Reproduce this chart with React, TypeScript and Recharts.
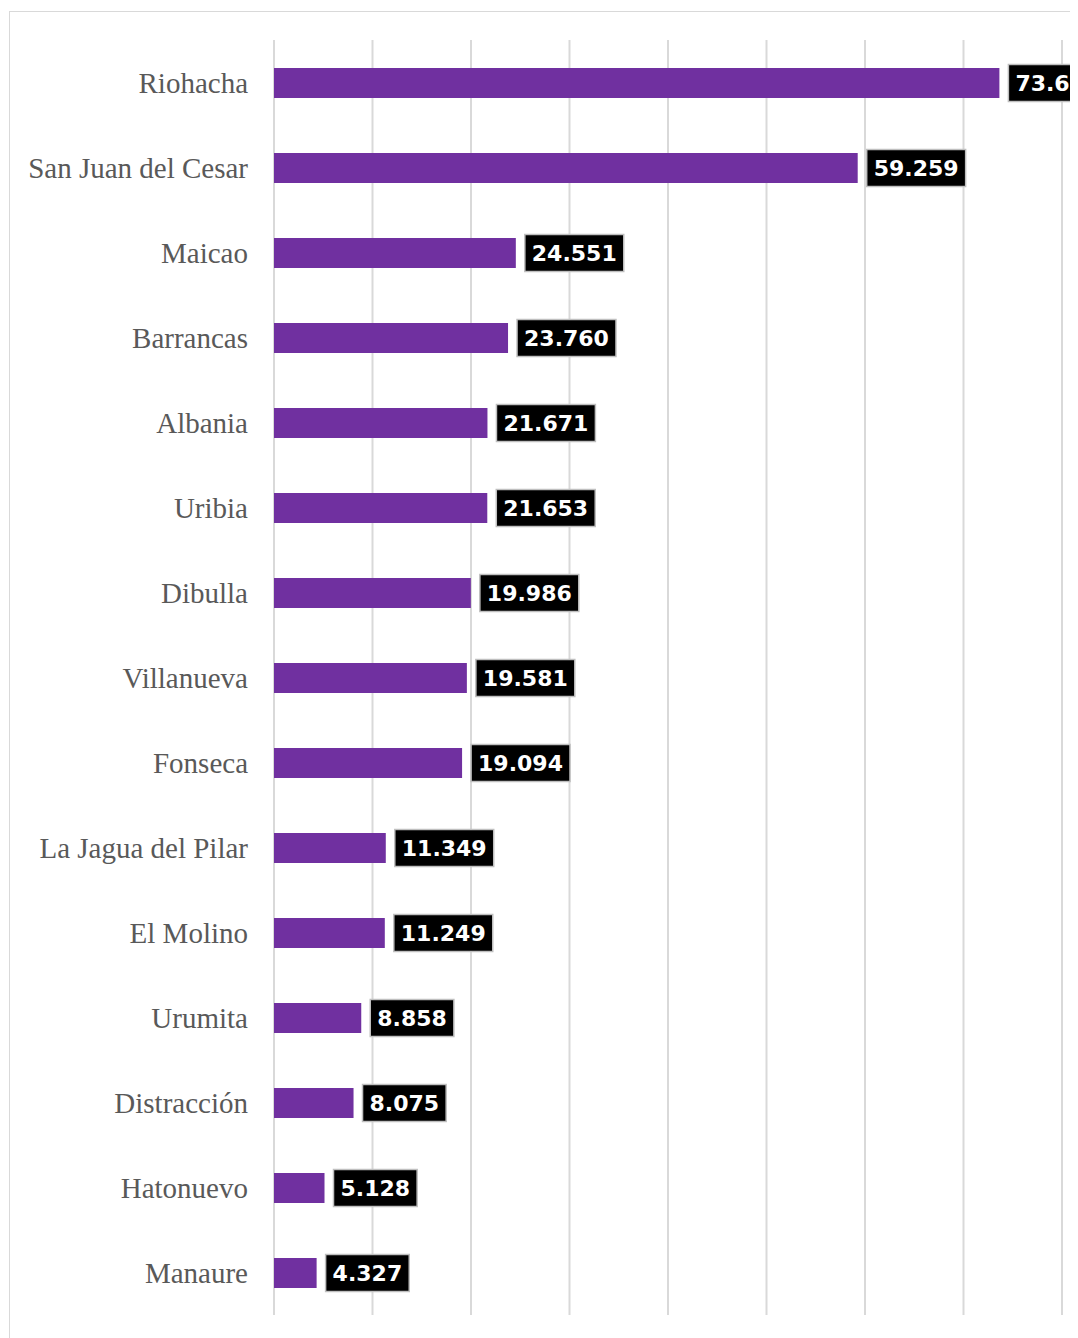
import React from 'react';
import { BarChart, Bar, XAxis, YAxis, CartesianGrid, LabelList } from 'recharts';

// Municipios and their values, top to bottom
const municipios = [
  'Riohacha',
  'San Juan del Cesar',
  'Maicao',
  'Barrancas',
  'Albania',
  'Uribia',
  'Dibulla',
  'Villanueva',
  'Fonseca',
  'La Jagua del Pilar',
  'El Molino',
  'Urumita',
  'Distracción',
  'Hatonuevo',
  'Manaure',
];
const valores = [
  73645, 59259, 24551, 23760, 21671, 21653, 19986, 19581, 19094, 11349, 11249, 8858, 8075, 5128, 4327,
];
const xTicks = [0, 10000, 20000, 30000, 40000, 50000, 60000, 70000, 80000];

const data = municipios.map((name, i) => ({ name, value: valores[i] }));

const fmt = (v: number) => v.toLocaleString('de-DE');

const ValueLabel = (props: any) => {
  const { x, y, width, height, value } = props;
  const text = fmt(Number(value));
  const fontSize = 22;
  // rough width of DejaVu Sans Bold digits / period
  let tw = 0;
  for (const ch of text) tw += ch === '.' ? 0.381 * fontSize : 0.696 * fontSize;
  const padX = 7;
  const boxW = tw + padX * 2;
  const boxH = 37;
  const bx = x + width + 9;
  const cy = y + height / 2;
  return (
    <g>
      <rect x={bx} y={cy - boxH / 2} width={boxW} height={boxH} fill="#000" stroke="#bfbfbf" strokeWidth={1.5} />
      <text
        x={bx + padX}
        y={cy}
        dy="0.36em"
        fill="#fff"
        fontFamily="'DejaVu Sans', Verdana, sans-serif"
        fontWeight="bold"
        fontSize={fontSize}
      >
        {text}
      </text>
    </g>
  );
};

export default function App() {
  return (
    <div style={{ width: 1070, height: 1330, overflow: 'hidden' }}>
      <div
        style={{
          marginLeft: 1,
          marginTop: 3,
          width: 1200,
          height: 1400,
          border: '1px solid #d9d9d9',
          boxSizing: 'border-box',
        }}
      >
        <BarChart
          width={1150}
          height={1330}
          data={data}
          layout="vertical"
          margin={{ top: 28, right: 98, bottom: 27, left: 0 }}
          barCategoryGap={0}
        >
          <CartesianGrid horizontal={false} stroke="#d9d9d9" strokeWidth={2} />
          <XAxis
            type="number"
            domain={[0, 80000]}
            ticks={xTicks}
            interval={0}
            tick={() => <g />}
            axisLine={false}
            tickLine={false}
            height={0}
          />
          <YAxis
            type="category"
            dataKey="name"
            width={264}
            axisLine={false}
            tickLine={false}
            tickSize={0}
            tickMargin={26}
            interval={0}
            tick={{ fill: '#595959', fontSize: 29, fontFamily: "'Liberation Serif', 'Times New Roman', serif" }}
          />
          <Bar dataKey="value" fill="#7030a0" barSize={30} isAnimationActive={false}>
            <LabelList dataKey="value" content={ValueLabel} />
          </Bar>
        </BarChart>
      </div>
    </div>
  );
}
